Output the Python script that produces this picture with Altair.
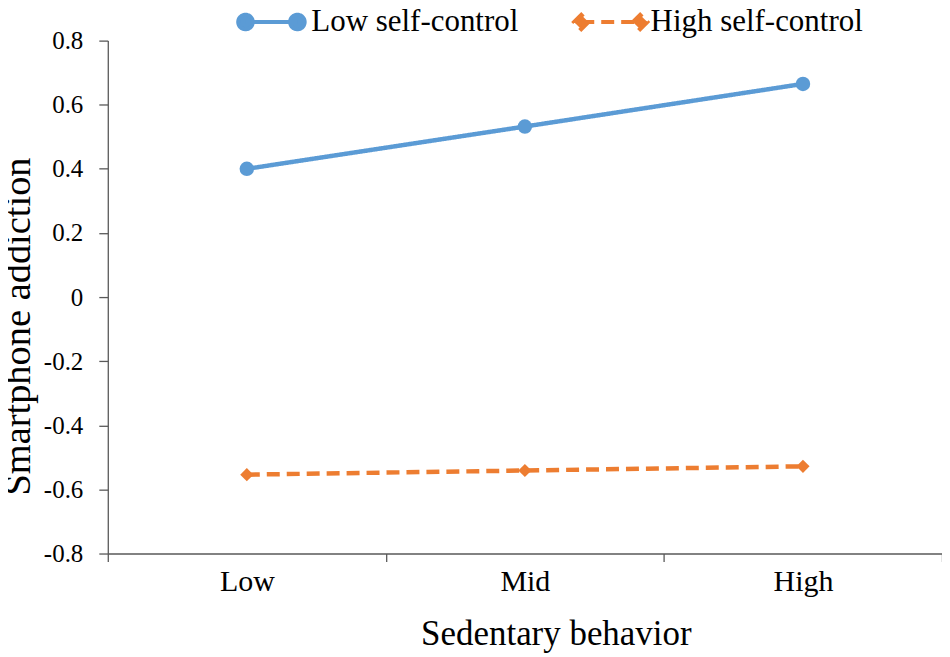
import altair as alt
import pandas as pd

levels = ["Low", "Mid", "High"]
series = ["Low self-control", "High self-control"]
low_sc = [0.40, 0.532, 0.665]
high_sc = [-0.554, -0.541, -0.528]
y_ticks = [-0.8, -0.6, -0.4, -0.2, 0.0, 0.2, 0.4, 0.6, 0.8]

rows = []
for lv, v in zip(levels, low_sc):
    rows.append({"level": lv, "group": series[0], "value": v})
for lv, v in zip(levels, high_sc):
    rows.append({"level": lv, "group": series[1], "value": v})
df = pd.DataFrame(rows)

FONT = "Liberation Serif"
BLUE = "#5B9BD5"
ORANGE = "#ED7D31"
AXIS = "#595959"

# legend glyphs (unit = half symbol width of 15px)
circ_path = ("M-1.733,0L1.733,0"
             "M-2.22,0a0.487,0.487 0 1,0 0.974,0a0.487,0.487 0 1,0 -0.974,0"
             "M1.246,0a0.487,0.487 0 1,0 0.974,0a0.487,0.487 0 1,0 -0.974,0")
diam_path = ("M-1.967,0L1.967,0"
             "M-2.45,0L-1.967,-0.48L-1.484,0L-1.967,0.48Z"
             "M1.484,0L1.967,-0.48L2.45,0L1.967,0.48Z")

x = alt.X(
    "level:N", sort=levels,
    scale=alt.Scale(type="band", paddingInner=0, paddingOuter=0),
    axis=alt.Axis(
        title="Sedentary  behavior", tickBand="extent", labelAngle=0,
        labelFont=FONT, labelFontSize=30, labelColor="black", labelPadding=5,
        tickSize=8, tickColor=AXIS, domainColor=AXIS, tickWidth=1.3, domainWidth=1.3,
        titleFont=FONT, titleFontSize=35, titleFontWeight="normal", titleColor="black",
        titleX=449, titleY=91, titleBaseline="alphabetic", titleAlign="center",
        grid=False,
    ),
)
y = alt.Y(
    "value:Q",
    scale=alt.Scale(domain=[-0.8, 0.8], nice=False, zero=False),
    axis=alt.Axis(
        title="Smartphone addiction", values=y_ticks,
        labelExpr="datum.value == 0 ? '0' : replace(format(datum.value, '.1f'), '\u2212', '-')",
        labelFont=FONT, labelFontSize=25, labelColor="black", labelPadding=16,
        tickSize=9, tickColor=AXIS, domainColor=AXIS, tickWidth=1.3, domainWidth=1.3,
        titleFont=FONT, titleFontSize=38.5, titleFontWeight="normal", titleColor="black",
        titleX=-78, titleY=286, titleBaseline="alphabetic", titleAlign="center", titleAngle=-90,
        grid=False,
    ),
)
legend = alt.Legend(
    title=None, orient="none", legendX=147, legendY=-36, direction="horizontal",
    symbolSize=900, symbolStrokeWidth=4,
    labelFont=FONT, labelFontSize=31, labelColor="black", labelOffset=23,
    labelLimit=500, columnPadding=47, padding=0,
)
color = alt.Color(
    "group:N", sort=series,
    scale=alt.Scale(domain=series, range=[BLUE, ORANGE]),
    legend=legend,
)
dash = alt.StrokeDash(
    "group:N", sort=series,
    scale=alt.Scale(domain=series, range=[[1, 0], [13, 7]]),
    legend=legend,
)
shape = alt.Shape(
    "group:N", sort=series,
    scale=alt.Scale(domain=series, range=[circ_path, diam_path]),
    legend=legend,
)

base = alt.Chart(df)
lines = base.mark_line(strokeWidth=4.5).encode(x=x, y=y, color=color, strokeDash=dash)
circles = base.mark_point(filled=True, opacity=1, shape="circle", size=210).encode(
    x=x, y=y, color=color
).transform_filter(alt.datum.group == series[0])
diamonds = base.mark_point(filled=True, opacity=1, shape="diamond", size=175).encode(
    x=x, y=y, color=color
).transform_filter(alt.datum.group == series[1])
legend_layer = base.mark_point(filled=True, opacity=1, strokeWidth=4).encode(
    color=color, shape=shape, strokeDash=dash
).transform_filter("false")

chart = alt.layer(lines, circles, diamonds, legend_layer).properties(
    width=836, height=514,
    autosize=alt.AutoSizeParams(type="none"),
    padding={"left": 100, "top": 32, "right": 0, "bottom": 100},
).configure(
    background="white", font=FONT
).configure_view(stroke=None).configure_axis(
    titleFont=FONT, labelFont=FONT
).configure_legend(labelFont=FONT)

chart.save("out.html", embed_options={"renderer": "svg", "actions": False})
